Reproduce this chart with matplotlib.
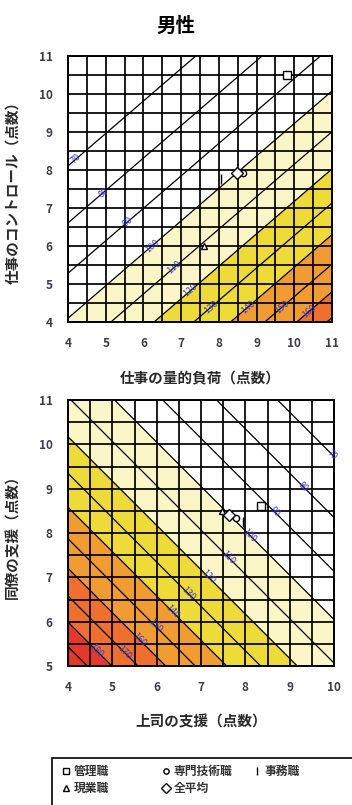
import matplotlib.pyplot as plt
import numpy as np
from matplotlib.lines import Line2D
from matplotlib.patches import Rectangle

plt.rcParams['font.family'] = ['Noto Sans CJK JP', 'DejaVu Sans']

title = '男性'
groups = ['管理職', '専門技術職', '事務職', '現業職', '全平均']

# 量-コントロール判定図 (job demand vs control)
demand = [9.8, 8.65, 8.05, 7.6, 8.47]
control = [10.5, 7.93, 7.75, 6.0, 7.93]

# 職場の支援判定図 (supervisor vs coworker support)
boss = [8.35, 7.8, 7.95, 7.48, 7.63]
coworker = [8.62, 8.34, 8.24, 8.5, 8.41]

# health risk model, centred as drawn in the chart
K_DEMAND, K_CONTROL = 0.076, 0.089
DEMAND0, CONTROL0 = 8.45, 7.9
K_BOSS, K_COWORKER = 0.097, 0.097
BOSS0, COWORKER0 = 7.6, 8.45

line_levels = list(range(70, 200, 10))
band_levels = [0, 100, 120, 140, 160, 180, 400]
band_colors = ['white', '#fbf6c8', '#eedb3a', '#f19b33', '#ee6f2e', '#e4382d']

# where the contour labels sit
top_label_pos = [(4.19, 8.32), (4.93, 7.42), (5.59, 6.66), (6.17, 6.08), (6.76, 5.5),
                 (7.24, 4.84), (7.9, 4.26), (8.9, 4.26), (9.8, 4.26), (10.5, 4.19)]
bottom_label_pos = [(9.95, 9.76), (9.28, 9.01), (8.6, 8.41), (8.1, 7.95), (7.65, 7.47),
                    (7.13, 6.98), (6.68, 6.6), (6.34, 6.22), (5.92, 5.85), (5.62, 5.59),
                    (5.29, 5.32), (4.68, 5.4)]

marker_style = {
    '管理職': dict(marker='s', ms=5.5),
    '専門技術職': dict(marker='o', ms=4.5),
    '事務職': dict(marker='|', ms=6.5),
    '現業職': dict(marker='^', ms=4.5),
    '全平均': dict(marker='D', ms=6.5),
}


def risk_a(x, y):
    return np.exp(K_DEMAND * (x - DEMAND0) - K_CONTROL * (y - CONTROL0)) * 100


def risk_b(x, y):
    return np.exp(-K_BOSS * (x - BOSS0) - K_COWORKER * (y - COWORKER0)) * 100


def draw_panel(ax, func, xlim, ylim, xs, ys, label_pos, xlabel, ylabel):
    gx = np.linspace(xlim[0], xlim[1], 300)
    gy = np.linspace(ylim[0], ylim[1], 300)
    X, Y = np.meshgrid(gx, gy)
    Z = func(X, Y)

    ax.contourf(X, Y, Z, levels=band_levels, colors=band_colors)
    cs = ax.contour(X, Y, Z, levels=line_levels, colors='black', linewidths=0.9)
    labels = ax.clabel(cs, levels=line_levels, fmt='%d', manual=label_pos, inline=False,
                       fontsize=6.5, colors='#3a3ad6')
    for t in labels:
        t.set_clip_on(False)

    for g, x, y in zip(groups, xs, ys):
        ax.plot(x, y, ls='none', mfc='white', mec='black', mew=1.0, zorder=5,
                **marker_style[g])

    ax.set_xlim(*xlim)
    ax.set_ylim(*ylim)
    ax.set_xticks(np.arange(xlim[0], xlim[1] + 1))
    ax.set_yticks(np.arange(ylim[0], ylim[1] + 1))
    ax.set_xticks(np.arange(xlim[0], xlim[1] + 0.5, 0.5), minor=True)
    ax.set_yticks(np.arange(ylim[0], ylim[1] + 0.5, 0.5), minor=True)
    ax.grid(which='both', color='black', linewidth=1.25)
    ax.tick_params(which='both', length=0)
    ax.tick_params(which='major', pad=11, labelsize=8.5, labelcolor='#3c3c4c')
    plt.setp(ax.get_xticklabels() + ax.get_yticklabels(), fontweight='bold')
    for sp in ax.spines.values():
        sp.set_linewidth(1.4)

    ax.set_xlabel(xlabel, fontsize=10.5, fontweight='bold', color='#2a2a2a')
    ax.set_ylabel(ylabel, fontsize=10.5, fontweight='bold', color='#2a2a2a')
    ax.xaxis.set_label_coords(0.5, -0.18)
    ax.yaxis.set_label_coords(-0.18, 0.5)


fig = plt.figure(figsize=(3.52, 8.05), dpi=100)
W, H = 352, 805

fig.text(176 / W, 1 - 26 / H, title, ha='center', va='center', fontsize=14, fontweight='bold')

ax1 = fig.add_axes([68 / W, 1 - 322 / H, 264 / W, 266 / H])
draw_panel(ax1, risk_a, (4, 11), (4, 11), demand, control, top_label_pos,
           '仕事の量的負荷（点数）', '仕事のコントロール（点数）')

ax2 = fig.add_axes([68 / W, 1 - 666 / H, 266 / W, 266 / H])
draw_panel(ax2, risk_b, (4, 10), (5, 11), boss, coworker, bottom_label_pos,
           '上司の支援（点数）', '同僚の支援（点数）')

# legend box, runs off the page edge like the original
fig.add_artist(Rectangle((52 / W, -0.02), 320 / W, 0.02 + 1 - 758 / H, transform=fig.transFigure,
                         fill=False, edgecolor='black', linewidth=1.2, clip_on=False))
legend_slots = {
    '管理職': (66, 771), '専門技術職': (166, 771), '事務職': (257, 771),
    '現業職': (66, 788), '全平均': (166, 788),
}
for g in groups:
    px, py = legend_slots[g]
    style = dict(marker_style[g])
    style['ms'] = style['ms'] * 0.85
    fig.add_artist(Line2D([px / W], [1 - py / H], transform=fig.transFigure, ls='none',
                          mfc='white', mec='black', mew=1.0, **style))
    fig.text((px + 8) / W, 1 - py / H, g, ha='left', va='center', fontsize=8.5,
             fontweight='bold', color='#333333')

fig.savefig('out.png', dpi=100)
